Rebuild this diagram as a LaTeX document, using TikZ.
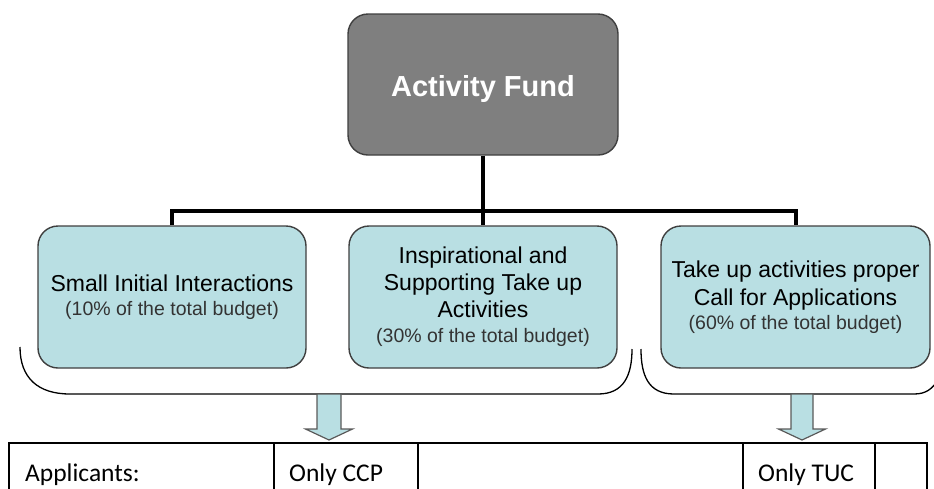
\documentclass[tikz,border=0pt]{standalone}
\usepackage{fontspec}
\setmainfont{Liberation Sans}
\newfontfamily\tablefont{Carlito}
\definecolor{boxblue}{HTML}{B9DFE3}
\definecolor{boxedge}{HTML}{3F3F3F}
\definecolor{topgray}{HTML}{7F7F7F}
\definecolor{subgray}{HTML}{333333}
\definecolor{arrowedge}{HTML}{5A5A5A}
\begin{document}
\begin{tikzpicture}[x=1pt,y=-1pt,
  fundbox/.style={draw=boxedge,line width=1.4pt,rounded corners=20pt,fill=boxblue,
    minimum width=268pt,minimum height=142pt,align=center,inner sep=2pt,
    font=\fontsize{23}{27}\selectfont},
  topbox/.style={draw=boxedge,line width=1.4pt,rounded corners=20pt,fill=topgray,
    minimum width=270pt,minimum height=141pt,text=white,
    font=\fontsize{29}{33}\selectfont\bfseries},
  bus/.style={line width=4pt,black},
  bracket/.style={line width=1.3pt,black},
  downarrow/.style={fill=boxblue,draw=arrowedge,line width=1.2pt,line join=miter},
  grid/.style={line width=1.5pt,black},
  celltext/.style={anchor=base west,inner sep=0pt,font=\tablefont\fontsize{25.5}{30}\selectfont}]
\useasboundingbox (0,0) rectangle (934,488);
\newcommand{\sub}[1]{{\fontsize{19.5}{23}\selectfont\color{subgray}#1}}

\node[topbox] (top) at (483,84.5) {\rule{0pt}{31pt}Activity Fund};
\node[fundbox] (left) at (172,297) {Small Initial Interactions\\[-3pt]\sub{(10\% of the total budget)}};
\node[fundbox] (mid) at (483,297) {Inspirational and\\[0pt]Supporting Take up\\[0pt]Activities\\[-2pt]\sub{(30\% of the total budget)}};
\node[fundbox,minimum width=269pt] (right) at (795.5,297) {Take up activities proper\\[1pt]Call for Applications\\[-3pt]\sub{(60\% of the total budget)}};

\coordinate (busc) at (483,211);
\draw[bus] (top.south) -- (mid.north);
\draw[bus] (left.north) |- (busc) -| (right.north);

% brackets
\draw[bracket] (20,347) .. controls (20,378) and (38,394) .. (70,394) -- (598,394)
  .. controls (624,394) and (632,375) .. (632,349);
\draw[bracket] (641,349) .. controls (641,375) and (648,394) .. (674,394) -- (914,394)
  .. controls (926,394) and (932,389) .. (938,380);

% arrows
\draw[downarrow] (317,394) -- (341,394) -- (341,429) -- (352.5,429) -- (329,440)
  -- (305.5,429) -- (317,429) -- cycle;
\draw[downarrow] (791,394) -- (813,394) -- (813,429) -- (825.5,429) -- (802,440)
  -- (778.5,429) -- (791,429) -- cycle;

% table
\draw[grid] (9,500) -- (9,443) -- (927,443) -- (927,500);
\foreach \cx in {274,418,743,875} \draw[grid] (\cx,443) -- (\cx,500);
\node[celltext] (app) at (25,481) {Applicants:};
\node[celltext] (ccp) at (289,481) {Only CCP};
\node[celltext] (tuc) at (758,481) {Only TUC};
\end{tikzpicture}
\end{document}
